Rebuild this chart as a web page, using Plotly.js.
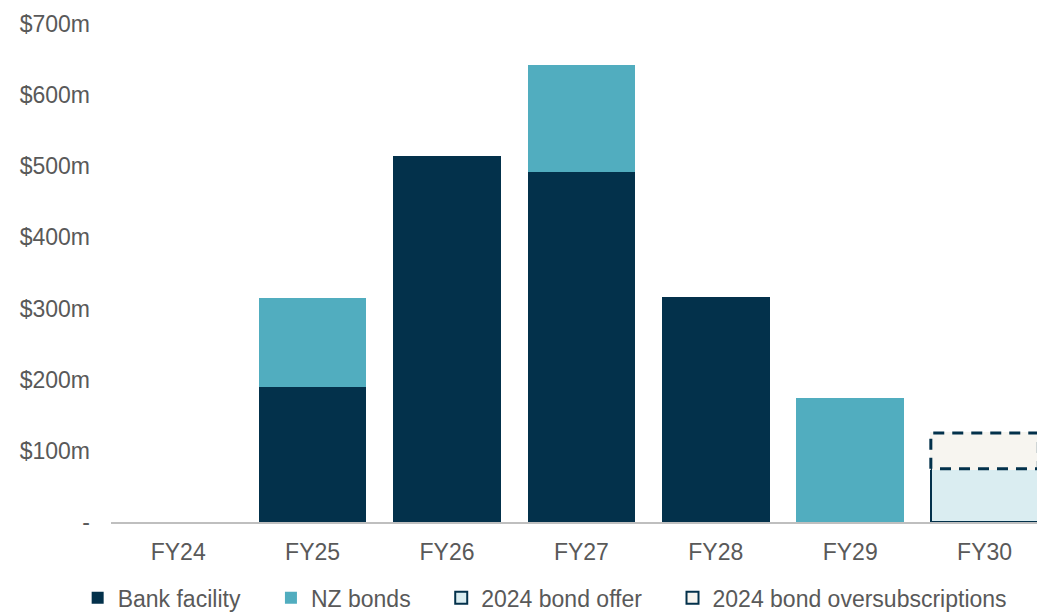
<!DOCTYPE html>
<html>
<head>
<meta charset="utf-8">
<script src="https://cdn.plot.ly/plotly-3.0.1.min.js"></script>
<style>html,body{margin:0;padding:0;background:#fff;}#chart{width:1037px;height:612px;}</style>
</head>
<body>
<div id="chart"></div>
<script>
const categories = ["FY24", "FY25", "FY26", "FY27", "FY28", "FY29", "FY30"];
const bankFacility = [0, 190, 515, 492, 316, 0, 0];
const nzBonds = [0, 125, 0, 150, 0, 175, 0];
const bondOffer2024 = [0, 0, 0, 0, 0, 0, 75];
const bondOversub2024 = [0, 0, 0, 0, 0, 0, 50];
const seriesNames = ["Bank facility", "NZ bonds", "2024 bond offer", "2024 bond oversubscriptions"];
const yTickVals = [0, 100, 200, 300, 400, 500, 600, 700];
const yTickText = ["-", "$100m", "$200m", "$300m", "$400m", "$500m", "$600m", "$700m"];

const xIdx = categories.map((c, i) => i);
const BAR_W = 0.8;
const navy = "#03314b";
const teal = "#51adbf";
const offerFill = "#daedf1";
const oversubFill = "#f7f5f0";
const font = {family: "Liberation Sans, Arial, sans-serif", size: 23, color: "#595959"};
const nz = arr => arr.map(v => (v === 0 ? null : v));
const pad = s => s + "\u00a0\u00a0\u00a0\u00a0";

const traces = [
  {type: "bar", name: pad(seriesNames[0]), x: xIdx, y: nz(bankFacility), width: BAR_W,
   marker: {color: navy, line: {width: 0}}},
  {type: "bar", name: pad(seriesNames[1]), x: xIdx, y: nz(nzBonds), width: BAR_W,
   marker: {color: teal, line: {width: 0}}},
  {type: "bar", name: pad(seriesNames[2]), x: xIdx, y: nz(bondOffer2024), width: BAR_W,
   marker: {color: offerFill, line: {color: navy, width: 2}}},
  {type: "bar", name: seriesNames[3], x: xIdx, y: nz(bondOversub2024), width: BAR_W,
   marker: {color: oversubFill,
     line: {color: bondOversub2024.map(v => (v > 0 ? oversubFill : navy)), width: 2}}}
];

// dashed outline for the oversubscription segment, built from the data
const ox = [], oy = [];
xIdx.forEach((xi, i) => {
  if (bondOversub2024[i] > 0) {
    const base = bankFacility[i] + nzBonds[i] + bondOffer2024[i];
    const top = base + bondOversub2024[i];
    ox.push(xi - BAR_W / 2, xi - BAR_W / 2, xi + BAR_W / 2, xi + BAR_W / 2, xi - BAR_W / 2, null);
    oy.push(base, top, top, base, base, null);
  }
});
traces.push({type: "scatter", mode: "lines", x: ox, y: oy, showlegend: false, hoverinfo: "skip",
  line: {color: navy, width: 3, dash: "11px,8px"}});

const layout = {
  width: 1037, height: 612,
  margin: {l: 111, r: 0, t: 24, b: 90, pad: 0, autoexpand: false},
  paper_bgcolor: "#fff", plot_bgcolor: "#fff",
  barmode: "stack",
  font: font,
  showlegend: true,
  hovermode: false,
  xaxis: {range: [-0.5, 6.39], tickvals: xIdx, ticktext: categories, showgrid: false,
    zeroline: false, showline: true, linecolor: "#bfbfbf", linewidth: 2, ticks: "",
    tickfont: font, ticklabelstandoff: 8, fixedrange: true},
  yaxis: {range: [0, 700], tickvals: yTickVals, ticktext: yTickText, showgrid: false,
    zeroline: false, showline: false, ticks: "", tickfont: font, ticklabelstandoff: 20,
    fixedrange: true},
  legend: {orientation: "h", x: -0.036, xanchor: "left", y: -0.109, yanchor: "top",
    font: font, traceorder: "normal", itemwidth: 30, bgcolor: "rgba(0,0,0,0)"}
};

Plotly.newPlot("chart", traces, layout, {displayModeBar: false, staticPlot: true});
</script>
</body>
</html>
